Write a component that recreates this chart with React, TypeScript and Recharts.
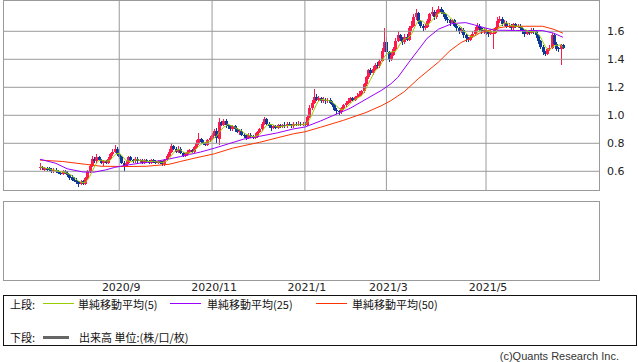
import { ComposedChart, Bar, Line, XAxis, YAxis, ReferenceLine } from "recharts";

// daily candles, price in yen*100
const OPEN = [
  62, 63, 61, 62, 62, 61, 60, 61, 60, 59,
  58, 60, 59, 57, 56, 54, 54, 52, 51, 53,
  51, 55, 60, 64, 69, 67, 70, 68, 66, 67,
  66, 69, 72, 74, 76, 72, 70, 66, 64, 66,
  70, 68, 67, 69, 67, 68, 66, 68, 67, 66,
  68, 67, 66, 67, 66, 65, 68, 71, 74, 78,
  76, 74, 76, 73, 71, 72, 74, 75, 74, 77,
  80, 83, 81, 80, 79, 82, 84, 86, 89, 83,
  95, 93, 96, 93, 92, 90, 92, 90, 88, 89,
  86, 85, 84, 86, 85, 84, 85, 88, 90, 94,
  97, 94, 92, 91, 92, 91, 93, 92, 93, 92,
  94, 93, 92, 94, 93, 94, 93, 94, 93, 99,
  105, 109, 113, 111, 112, 110, 111, 110, 111, 109,
  107, 104, 103, 102, 105, 107, 109, 110, 112, 111,
  113, 114, 115, 117, 122, 127, 132, 130, 133, 136,
  135, 139, 146, 152, 145, 140, 143, 147, 153, 157,
  155, 152, 156, 154, 162, 164, 170, 173, 167, 164,
  162, 163, 167, 172, 174, 170, 173, 176, 174, 172,
  169, 168, 166, 168, 164, 162, 160, 161, 157, 155,
  154, 156, 158, 161, 164, 162, 160, 161, 159, 158,
  158, 159, 162, 167, 169, 165, 166, 163, 164, 162,
  165, 163, 164, 162, 160, 158, 160, 159, 161, 160,
  157, 153, 149, 145, 144, 147, 148, 157, 151, 148,
  147, 150,
];
const CLOSE = [
  63, 62, 62, 61, 61, 60, 61, 60, 59, 58,
  60, 59, 57, 55, 54, 53, 52, 51, 52, 51,
  55, 60, 64, 69, 67, 70, 68, 66, 67, 66,
  69, 72, 74, 76, 72, 70, 66, 64, 66, 70,
  68, 67, 69, 67, 68, 66, 68, 67, 66, 68,
  67, 66, 67, 66, 65, 68, 71, 74, 78, 76,
  74, 76, 73, 71, 72, 74, 75, 74, 77, 80,
  83, 81, 80, 79, 82, 84, 86, 89, 84, 95,
  93, 96, 93, 92, 90, 92, 90, 88, 89, 86,
  85, 84, 86, 85, 84, 85, 88, 90, 94, 97,
  94, 92, 91, 92, 91, 93, 92, 93, 92, 94,
  93, 92, 94, 93, 94, 93, 94, 93, 99, 105,
  109, 113, 111, 112, 110, 111, 110, 111, 109, 107,
  104, 103, 102, 105, 107, 109, 110, 112, 111, 113,
  114, 115, 117, 122, 127, 132, 130, 133, 136, 135,
  139, 146, 152, 145, 140, 143, 147, 153, 157, 155,
  152, 156, 154, 162, 164, 170, 173, 167, 164, 162,
  163, 167, 172, 174, 170, 173, 176, 174, 172, 169,
  168, 166, 168, 164, 162, 160, 161, 157, 155, 154,
  156, 158, 161, 164, 162, 160, 161, 159, 158, 160,
  159, 162, 167, 169, 165, 166, 163, 164, 162, 165,
  163, 164, 162, 160, 158, 160, 159, 161, 160, 157,
  153, 149, 145, 144, 147, 148, 157, 151, 147, 147,
  150, 148,
];
const HIGH = [
  66, 64, 63, 63, 63, 62, 62, 62, 61, 60,
  61, 61, 60, 58, 57, 56, 55, 53, 54, 54,
  56, 61, 65, 71, 70, 72, 71, 69, 68, 68,
  70, 73, 76, 79, 77, 73, 71, 67, 67, 71,
  71, 69, 70, 70, 69, 69, 69, 69, 68, 69,
  69, 68, 68, 68, 67, 69, 72, 76, 80, 79,
  77, 78, 77, 74, 73, 75, 76, 76, 78, 82,
  87, 84, 82, 81, 83, 85, 87, 90, 91, 98,
  96, 97, 97, 94, 93, 93, 93, 91, 90, 90,
  87, 86, 87, 87, 86, 87, 89, 91, 95, 99,
  98, 95, 93, 93, 93, 94, 94, 94, 95, 95,
  95, 94, 95, 95, 96, 95, 95, 95, 100, 107,
  111, 119, 115, 114, 113, 113, 112, 112, 112, 110,
  108, 105, 104, 106, 108, 110, 112, 113, 113, 114,
  116, 117, 118, 123, 128, 133, 134, 135, 137, 138,
  140, 148, 162, 156, 146, 145, 149, 155, 160, 158,
  156, 158, 158, 164, 167, 172, 176, 174, 168, 165,
  165, 169, 173, 177, 175, 175, 178, 177, 175, 173,
  170, 169, 169, 169, 165, 163, 163, 162, 158, 156,
  157, 160, 163, 166, 165, 163, 162, 162, 160, 161,
  161, 163, 170, 171, 170, 168, 167, 166, 165, 166,
  166, 165, 165, 163, 161, 161, 161, 162, 162, 161,
  158, 154, 150, 146, 148, 150, 159, 158, 152, 149,
  151, 151,
];
const LOW = [
  61, 61, 60, 60, 60, 59, 59, 59, 58, 57,
  57, 58, 56, 54, 53, 52, 51, 49, 50, 50,
  50, 54, 59, 63, 66, 66, 67, 65, 64, 65,
  65, 68, 71, 73, 71, 69, 65, 60, 63, 65,
  67, 66, 66, 66, 66, 65, 65, 66, 65, 65,
  66, 65, 65, 65, 64, 64, 67, 70, 73, 75,
  73, 73, 72, 70, 70, 71, 73, 73, 73, 76,
  79, 80, 79, 78, 78, 81, 82, 85, 80, 79,
  92, 92, 91, 90, 89, 89, 88, 87, 86, 85,
  84, 82, 83, 84, 83, 83, 84, 87, 89, 93,
  93, 91, 89, 90, 90, 90, 91, 91, 91, 91,
  92, 91, 91, 92, 92, 92, 92, 92, 92, 98,
  104, 108, 110, 110, 109, 109, 108, 109, 108, 106,
  103, 101, 100, 101, 104, 106, 108, 109, 110, 110,
  112, 113, 114, 116, 121, 126, 129, 129, 132, 133,
  134, 138, 145, 144, 138, 139, 142, 146, 152, 153,
  150, 151, 153, 153, 160, 163, 168, 165, 162, 160,
  161, 162, 166, 171, 168, 169, 172, 172, 170, 167,
  166, 164, 165, 163, 160, 158, 159, 155, 152, 152,
  153, 155, 157, 160, 160, 158, 158, 157, 156, 157,
  147, 158, 161, 166, 164, 164, 162, 162, 161, 161,
  162, 162, 161, 158, 156, 157, 157, 158, 158, 155,
  151, 147, 143, 142, 143, 146, 147, 150, 146, 145,
  136, 147,
];
// 5-day moving average as drawn (green)
const MA5 = [
  63, 63, 62.5, 62, 61.8, 61.2, 61, 60.6, 60.2, 59.6,
  59.6, 59.2, 58.6, 57.8, 57, 55.6, 54.2, 53, 52.4, 51.8,
  52.2, 53.8, 56.4, 59.8, 63, 66, 67.6, 68, 67.6, 67.4,
  67.2, 68, 69.6, 71.4, 72.6, 72.8, 71.6, 69.6, 67.6, 67.2,
  66.8, 67, 68, 68.2, 67.8, 67.4, 67.6, 67.2, 67, 67,
  67.2, 66.8, 66.8, 66.6, 66.2, 66.4, 67.4, 68.8, 71.2, 73.4,
  74.6, 75.6, 75.4, 74, 73.2, 73.2, 73, 73.2, 74.4, 76,
  77.8, 79, 80.2, 80.6, 81, 81.2, 82.2, 84, 85, 87.6,
  89.4, 91.4, 92.2, 93.8, 92.8, 92.6, 91.4, 90.4, 89.8, 89,
  87.6, 86.4, 86, 85.2, 84.8, 84.8, 85.6, 86.4, 88.2, 90.8,
  92.6, 93.4, 93.6, 93.2, 92, 91.8, 91.8, 92.2, 92.2, 92.8,
  92.8, 92.8, 93, 93.2, 93.2, 93.2, 93.6, 93.4, 94.6, 96.8,
  100, 103.8, 107.4, 110, 111, 111.4, 110.8, 110.8, 110.2, 109.6,
  108.2, 106.8, 105, 104.2, 104.2, 105.2, 106.6, 108.6, 109.8, 111,
  112, 113, 114, 116.2, 119, 122.6, 125.6, 128.8, 131.6, 133.2,
  134.6, 137.8, 141.6, 143.4, 144.4, 145.2, 145.4, 145.6, 148, 151,
  152.8, 154.6, 154.8, 155.8, 157.6, 161.2, 164.6, 167.2, 167.6, 167.2,
  165.8, 164.6, 165.6, 167.6, 169.2, 171.2, 173, 173.4, 173, 172.8,
  171.8, 169.8, 168.6, 167, 165.6, 164, 163, 160.8, 159, 157.4,
  156.6, 156, 156.8, 158.6, 160.2, 161, 161.6, 161.2, 160, 159.6,
  159.4, 159.6, 161.2, 163.4, 164.4, 165.8, 166, 165.4, 164, 164,
  163.6, 163.6, 163.4, 162.8, 161.4, 160.8, 159.8, 159.6, 159.6, 159.4,
  158, 156, 152.8, 149.6, 147.6, 146.6, 148.2, 149.4, 150, 150,
  150.4, 148.4,
];
// 25 / 50 day averages, read at the days listed
const MA25_DAY = [0, 7, 12, 19, 24, 29, 33, 38, 44, 50, 57, 62, 66, 71, 77, 83, 90, 97, 105, 112, 117, 124, 129, 137, 144, 151, 155, 158, 163, 167, 171, 176, 182, 188, 192, 197, 201, 210, 222, 227, 231];
const MA25_VAL = [68.6, 65.7, 61.8, 59.5, 59.4, 61, 62.8, 64.3, 65.8, 66.8, 68.8, 70.5, 72, 73.8, 76.5, 79.5, 83, 85, 87.5, 90.3, 91.6, 96, 99.5, 105, 111.5, 118, 122.5, 127, 138, 146.5, 155, 161.5, 165.5, 166.2, 164.5, 162.2, 160.8, 160.6, 160.5, 158.6, 155.7];
const MA50_DAY = [0, 10, 20, 27, 38, 47, 57, 62, 68, 77, 85, 90, 97, 105, 112, 117, 124, 134, 144, 151, 155, 161, 167, 176, 181, 186, 191, 194, 201, 207, 222, 227, 231];
const MA50_VAL = [68, 67, 65, 63.6, 63.4, 63.6, 65, 67, 69.3, 72.5, 76.5, 78.3, 80.7, 84, 86.8, 88.2, 91.5, 96.4, 102, 107, 110.5, 117, 126, 138, 146, 152, 155.7, 158.6, 162, 163.6, 163.6, 161.4, 158.6];

const MONTH_DAY = [35, 76, 117, 153, 197];
const MONTH_LABEL = ["2020/9", "2020/11", "2021/1", "2021/3", "2021/5"];
const PRICE_TICKS = [0.6, 0.8, 1.0, 1.2, 1.4, 1.6];

const UP = "#ff1a4b";
const DOWN = "#0b3a9a";
const GRID = "#9a9a9a";
const X_DOMAIN: [number, number] = [-16.34, 246.9];

type Row = {
  i: number;
  open: number;
  close: number;
  high: number;
  low: number;
  ma5: number;
  ma25: number | null;
  ma50: number | null;
};

const rows: Row[] = OPEN.map((o, i) => ({
  i,
  open: o / 100,
  close: CLOSE[i] / 100,
  high: HIGH[i] / 100,
  low: LOW[i] / 100,
  ma5: MA5[i] / 100,
  ma25: null,
  ma50: null,
}));
MA25_DAY.forEach((d, k) => {
  rows[d].ma25 = MA25_VAL[k] / 100;
});
MA50_DAY.forEach((d, k) => {
  rows[d].ma50 = MA50_VAL[k] / 100;
});

function Candle(props: any) {
  const { x, y, width, height, payload } = props;
  if (x == null || y == null || !payload) return null;
  const top = Math.min(y, y + height);
  const h = Math.abs(height);
  const span = payload.high - payload.low;
  const k = span > 0 ? h / span : 0;
  const yo = top + (payload.high - payload.open) * k;
  const yc = top + (payload.high - payload.close) * k;
  const color = payload.close >= payload.open ? UP : DOWN;
  const cx = Math.round(x + width / 2);
  return (
    <g shapeRendering="crispEdges">
      <rect x={cx} y={top} width={1} height={Math.max(1, h)} fill={color} />
      <rect x={cx - 1} y={Math.min(yo, yc)} width={3} height={Math.max(1, Math.abs(yc - yo))} fill={color} />
    </g>
  );
}

const legendText: React.CSSProperties = {
  position: "absolute",
  fontFamily: "'Noto Sans CJK JP', sans-serif",
  fontSize: 11,
  color: "#111",
  lineHeight: "14px",
  whiteSpace: "nowrap",
};

function LegendLine({ left, top, color, w = 31, h = 1 }: { left: number; top: number; color: string; w?: number; h?: number }) {
  return <div style={{ position: "absolute", left, top, width: w, height: h, background: color }} />;
}

export default function App() {
  return (
    <div style={{ position: "relative", width: 638, height: 362, background: "#fff", overflow: "hidden" }}>
      <style>{"body{margin:0}"}</style>

      {/* upper panel: candles + moving averages */}
      <div style={{ position: "absolute", left: 0, top: 0 }}>
        <ComposedChart width={638} height={191} data={rows} margin={{ top: 1, right: 0, bottom: 1, left: 3 }}>
          <XAxis dataKey="i" type="number" domain={X_DOMAIN} allowDataOverflow hide ticks={MONTH_DAY} />
          <YAxis
            orientation="right"
            type="number"
            domain={[0.4664, 1.8164]}
            allowDataOverflow
            ticks={PRICE_TICKS}
            tickFormatter={(v: number) => v.toFixed(1)}
            width={39}
            axisLine={false}
            tickLine={false}
            tick={{ fill: "#222", fontSize: 11, fontFamily: "DejaVu Sans" }}
          />
          {PRICE_TICKS.map((t) => (
            <ReferenceLine key={"h" + t} y={t} stroke={GRID} strokeWidth={1} />
          ))}
          {MONTH_DAY.map((d) => (
            <ReferenceLine key={"v" + d} x={d} stroke={GRID} strokeWidth={1} />
          ))}
          <Bar
            dataKey={(d: Row) => [d.low, d.high]}
            barSize={3}
            shape={(p: any) => <Candle {...p} />}
            isAnimationActive={false}
          />
          <Line dataKey="ma50" stroke="#ff3300" strokeWidth={1} dot={false} connectNulls isAnimationActive={false} />
          <Line dataKey="ma25" stroke="#9a00ff" strokeWidth={1} dot={false} connectNulls isAnimationActive={false} />
          <Line dataKey="ma5" stroke="#99cc00" strokeWidth={1} dot={false} isAnimationActive={false} />
        </ComposedChart>
      </div>
      <div style={{ position: "absolute", left: 3, top: 0, width: 595, height: 189, border: `1px solid ${GRID}`, pointerEvents: "none" }} />

      {/* lower panel: volume (empty) */}
      <div style={{ position: "absolute", left: 0, top: 200 }}>
        <ComposedChart width={638} height={100} data={rows} margin={{ top: 1, right: 39, bottom: 0, left: 3 }}>
          <XAxis
            dataKey="i"
            type="number"
            domain={X_DOMAIN}
            allowDataOverflow
            ticks={MONTH_DAY}
            tickFormatter={(v: number) => MONTH_LABEL[MONTH_DAY.indexOf(v)] ?? ""}
            height={19}
            axisLine={false}
            tickLine={false}
            tickSize={0}
            tickMargin={2}
            tick={{ fill: "#222", fontSize: 11, fontFamily: "DejaVu Sans", dx: 2 }}
          />
          <YAxis hide domain={[0, 1]} />
          {MONTH_DAY.map((d) => (
            <ReferenceLine key={"lv" + d} x={d} stroke={GRID} strokeWidth={1} />
          ))}
        </ComposedChart>
      </div>
      <div style={{ position: "absolute", left: 3, top: 201, width: 595, height: 78, border: `1px solid ${GRID}`, pointerEvents: "none" }} />

      {/* legend box */}
      <div style={{ position: "absolute", left: 3, top: 295, width: 632, height: 49, border: "1px solid #111" }} />
      <div style={{ ...legendText, left: 10, top: 297 }}>上段:</div>
      <LegendLine left={43} top={303} color="#99cc00" />
      <div style={{ ...legendText, left: 78, top: 297 }}>単純移動平均(5)</div>
      <LegendLine left={170} top={303} color="#9a00ff" />
      <div style={{ ...legendText, left: 207, top: 297 }}>単純移動平均(25)</div>
      <LegendLine left={316} top={303} color="#ff3300" />
      <div style={{ ...legendText, left: 352, top: 297 }}>単純移動平均(50)</div>
      <div style={{ ...legendText, left: 10, top: 330 }}>下段:</div>
      <LegendLine left={43} top={336} color="#666" w={26} h={3} />
      <div style={{ ...legendText, left: 79, top: 330 }}>出来高 単位:(株/口/枚)</div>

      <div
        style={{
          position: "absolute",
          right: 19,
          top: 350,
          fontFamily: "'Liberation Sans', sans-serif",
          fontSize: 11,
          color: "#333",
          whiteSpace: "nowrap",
        }}
      >
        (c)Quants Research Inc.
      </div>
    </div>
  );
}
